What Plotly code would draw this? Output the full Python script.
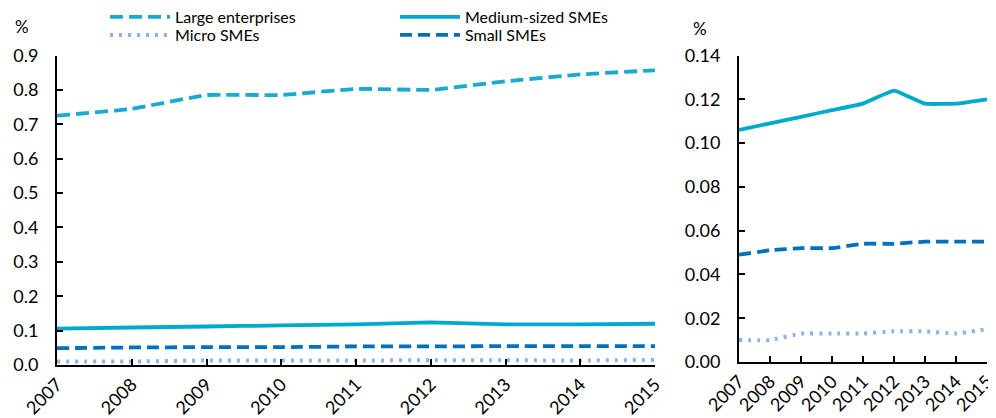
import plotly.graph_objects as go

years = [2007, 2008, 2009, 2010, 2011, 2012, 2013, 2014, 2015]
large = [0.725, 0.745, 0.785, 0.785, 0.803, 0.800, 0.825, 0.845, 0.857]
medium = [0.106, 0.109, 0.112, 0.115, 0.118, 0.124, 0.118, 0.118, 0.120]
small = [0.049, 0.051, 0.052, 0.052, 0.054, 0.054, 0.055, 0.055, 0.055]
micro = [0.010, 0.010, 0.013, 0.013, 0.013, 0.014, 0.014, 0.013, 0.015]

C_LARGE = "#1BA9D2"
C_MED = "#00A9CE"
C_MICRO = "#8DB3E2"
C_SMALL = "#0070C0"

FONT = "Lato, 'Liberation Sans Narrow', 'DejaVu Sans', sans-serif"
W, H = 996, 418
OFF = 8  # page body margin


def px(x):
    return (x - OFF) / W


def py(y):
    return (H - (y - OFF)) / H


fig = go.Figure()

styles = {
    "Large enterprises": dict(color=C_LARGE, width=3.8, dash="13px,6px"),
    "Medium-sized SMEs": dict(color=C_MED, width=3.8),
    "Micro SMEs": dict(color=C_MICRO, width=4, dash="3px,6px"),
    "Small SMEs": dict(color=C_SMALL, width=3.8, dash="12px,6px"),
}
data = {
    "Large enterprises": large,
    "Medium-sized SMEs": medium,
    "Micro SMEs": micro,
    "Small SMEs": small,
}
legend_of = {
    "Large enterprises": "legend",
    "Micro SMEs": "legend2",
    "Medium-sized SMEs": "legend3",
    "Small SMEs": "legend4",
}

# left panel
for name in ["Large enterprises", "Micro SMEs", "Medium-sized SMEs", "Small SMEs"]:
    fig.add_trace(go.Scatter(
        x=years, y=data[name], mode="lines", name=name,
        line=dict(shape="spline", smoothing=0.3, **styles[name]),
        xaxis="x", yaxis="y", legend=legend_of[name], showlegend=True,
        hoverinfo="skip"))

# right panel
for name in ["Medium-sized SMEs", "Small SMEs", "Micro SMEs"]:
    fig.add_trace(go.Scatter(
        x=years, y=data[name], mode="lines", name=name,
        line=dict(shape="spline", smoothing=0.3, **styles[name]),
        xaxis="x2", yaxis="y2", showlegend=False, hoverinfo="skip"))

axis_common = dict(
    showline=True, linecolor="black", linewidth=2,
    ticks="inside", ticklen=6, tickwidth=1.5, tickcolor="black",
    showgrid=False, zeroline=False, automargin=False,
    tickfont=dict(family=FONT, size=18, color="black"),
)


def leg(x, y):
    return dict(x=px(x), y=py(y), xanchor="left", yanchor="middle",
                orientation="v", bgcolor="rgba(0,0,0,0)", borderwidth=0,
                itemwidth=60, font=dict(family=FONT, size=16, color="black"))


fig.update_layout(
    template="none",
    width=W, height=H,
    margin=dict(l=0, r=0, t=0, b=0, pad=0, autoexpand=False),
    paper_bgcolor="white", plot_bgcolor="white",
    font=dict(family=FONT, color="black"),
    xaxis=dict(domain=[px(57), px(655)], range=[2007, 2015], tickmode="array",
               tickvals=years, ticktext=[str(y) for y in years], tickangle=-45,
               anchor="y", **axis_common),
    yaxis=dict(domain=[py(365), py(55.5)], range=[0, 0.9], dtick=0.1,
               tickformat=".1f", anchor="x", ticklabelstandoff=13, **axis_common),
    xaxis2=dict(domain=[px(739), px(987)], range=[2007, 2015], tickmode="array",
                tickvals=years, ticktext=[str(y) for y in years], tickangle=-45,
                anchor="y2", **axis_common),
    yaxis2=dict(domain=[py(362), py(55.5)], range=[0, 0.14], dtick=0.02,
                tickformat=".2f", anchor="x2", ticklabelstandoff=13, **axis_common),
    legend=leg(105, 17),
    legend2=leg(105, 35),
    legend3=leg(395, 17),
    legend4=leg(395, 35),
    annotations=[
        dict(text="%", x=px(22), y=py(27), xref="paper", yref="paper",
             xanchor="center", yanchor="middle",
             showarrow=False, font=dict(family=FONT, size=17, color="black")),
        dict(text="%", x=px(700), y=py(29), xref="paper", yref="paper",
             xanchor="center", yanchor="middle",
             showarrow=False, font=dict(family=FONT, size=17, color="black")),
    ],
)

fig.write_html("out.html")
